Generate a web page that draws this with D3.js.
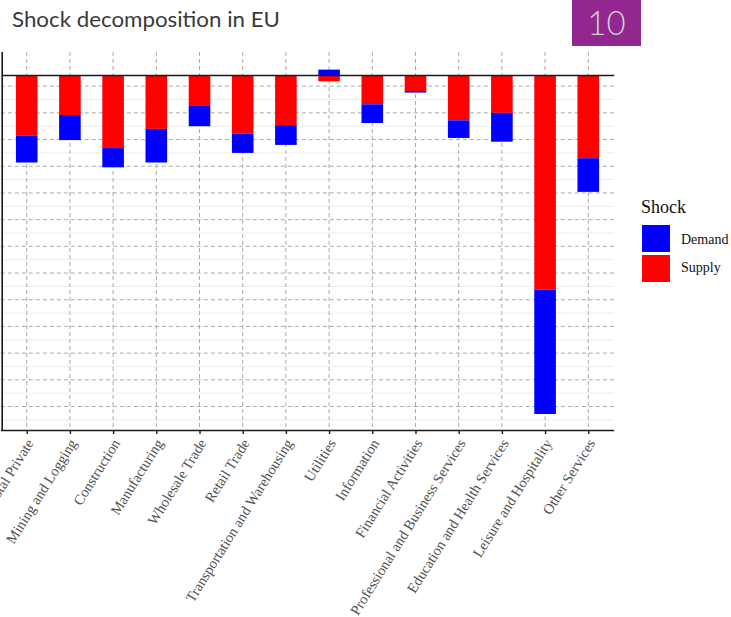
<!DOCTYPE html>
<html>
<head>
<meta charset="utf-8">
<script src="https://cdn.jsdelivr.net/npm/d3@7"></script>
<style>
  html, body { margin: 0; padding: 0; background: #fff; }
  svg { display: block; }
</style>
</head>
<body>
<script>
// Sectors, in plotting order
const sectors = [
  "Total Private", "Mining and Logging", "Construction", "Manufacturing",
  "Wholesale Trade", "Retail Trade", "Transportation and Warehousing",
  "Utilities", "Information", "Financial Activities",
  "Professional and Business Services", "Education and Health Services",
  "Leisure and Hospitality", "Other Services"
];

// Shock contributions (percent)
const supply = [-11.3, -7.4, -13.6, -10.0, -5.7, -10.9, -9.3, -1.1, -5.4, -2.9, -8.4, -7.0, -40.1, -15.5];
const demand = [-5.0, -4.7, -3.6, -6.3, -3.8, -3.6, -3.7, 1.1, -3.5, -0.3, -3.3, -5.4, -23.3, -6.3];

const shockKeys = ["Demand", "Supply"];
const shockColors = ["#0000ff", "#ff0000"];

// Gridline positions (percent)
const majorBreaks = [-2, -7, -12, -17, -22, -27, -32, -37, -42, -47, -52, -57, -62];
const minorBreaks = [-4.5, -9.5, -14.5, -19.5, -24.5, -29.5, -34.5, -39.5, -44.5, -49.5, -54.5, -59.5, -64.5];
const yDomain = [-66.4, 4.4];

const W = 731, H = 617;
const svg = d3.select("body").append("svg").attr("width", W).attr("height", H);

// Slide heading
svg.append("text")
  .attr("x", 12).attr("y", 27)
  .attr("font-family", "Lato, 'Noto Sans', sans-serif")
  .attr("font-size", 22)
  .attr("fill", "#3a3a3a")
  .attr("textLength", 268)
  .attr("lengthAdjust", "spacingAndGlyphs")
  .text("Shock decomposition in EU");

// Slide number badge
svg.append("rect")
  .attr("x", 572).attr("y", 0).attr("width", 69).attr("height", 46)
  .attr("fill", "#93278f");
svg.append("text")
  .attr("x", 606.5).attr("y", 35)
  .attr("text-anchor", "middle")
  .attr("font-family", "Lato, 'Noto Sans', sans-serif")
  .attr("font-weight", 300)
  .attr("font-size", 33)
  .attr("fill", "#cfcfcf")
  .text("10");

// Panel
const panel = { left: 0.8, right: 614.2, top: 52, bottom: 430 };

const x = d3.scalePoint().domain(sectors).range([panel.left, panel.right]).padding(0.6);
const y = d3.scaleLinear().domain(yDomain).range([panel.bottom, panel.top]);
const barW = x.step() * 0.5;

const g = svg.append("g");

// Minor horizontal grid
g.selectAll("line.minor").data(minorBreaks).join("line")
  .attr("class", "minor")
  .attr("x1", panel.left).attr("x2", panel.right)
  .attr("y1", d => y(d)).attr("y2", d => y(d))
  .attr("stroke", "#ececec").attr("stroke-width", 1);

// Major horizontal grid
g.selectAll("line.major").data(majorBreaks).join("line")
  .attr("class", "major")
  .attr("x1", panel.left).attr("x2", panel.right)
  .attr("y1", d => y(d)).attr("y2", d => y(d))
  .attr("stroke", "#aaaaaa").attr("stroke-width", 1)
  .attr("stroke-dasharray", "4,3");

// Vertical grid at each sector
g.selectAll("line.vgrid").data(sectors).join("line")
  .attr("class", "vgrid")
  .attr("x1", d => x(d)).attr("x2", d => x(d))
  .attr("y1", panel.top).attr("y2", panel.bottom)
  .attr("stroke", "#aaaaaa").attr("stroke-width", 1)
  .attr("stroke-dasharray", "4,3");

// Stacked bars: supply from zero, demand stacked beyond it (or above zero when positive)
const rows = sectors.map((s, i) => ({ sector: s, Supply: supply[i], Demand: demand[i] }));
const segs = [];
rows.forEach(r => {
  let neg = 0, pos = 0;
  ["Supply", "Demand"].forEach(k => {
    const v = r[k];
    let y0, y1;
    if (v < 0) { y0 = neg; y1 = neg + v; neg = y1; }
    else { y0 = pos; y1 = pos + v; pos = y1; }
    segs.push({ sector: r.sector, key: k, y0, y1 });
  });
});
const color = d3.scaleOrdinal().domain(shockKeys).range(shockColors);

g.selectAll("rect.bar").data(segs).join("rect")
  .attr("class", "bar")
  .attr("x", d => x(d.sector) - barW / 2)
  .attr("width", barW)
  .attr("y", d => y(Math.max(d.y0, d.y1)))
  .attr("height", d => Math.abs(y(d.y0) - y(d.y1)))
  .attr("fill", d => color(d.key));

// Zero reference line
g.append("line")
  .attr("x1", panel.left + 1).attr("x2", panel.right)
  .attr("y1", y(0)).attr("y2", y(0))
  .attr("stroke", "#1a1a1a").attr("stroke-width", 1.6);

// Left axis line
g.append("line")
  .attr("x1", 2.2).attr("x2", 2.2)
  .attr("y1", panel.top).attr("y2", panel.bottom)
  .attr("stroke", "#1a1a1a").attr("stroke-width", 1.6);

// Bottom axis
const xAxis = g.append("g")
  .attr("transform", `translate(0,${panel.bottom})`)
  .call(d3.axisBottom(x).tickSize(4).tickSizeOuter(0));
xAxis.select(".domain")
  .attr("d", `M${panel.left},0.5H${panel.right}`)
  .attr("stroke", "#1a1a1a").attr("stroke-width", 1.6);
xAxis.selectAll(".tick line").attr("stroke", "#1a1a1a").attr("stroke-width", 1.4);
xAxis.selectAll(".tick text")
  .attr("font-family", "'Liberation Serif', 'Times New Roman', serif")
  .attr("font-size", 14.5)
  .attr("fill", "#505050")
  .attr("text-anchor", "end")
  .attr("dy", null)
  .attr("y", 0)
  .attr("x", 0)
  .attr("transform", "translate(7,13) rotate(-58)");

// Legend
const lg = svg.append("g").attr("transform", "translate(641,0)");
lg.append("text")
  .attr("x", 0).attr("y", 213)
  .attr("font-family", "'Liberation Serif', 'Times New Roman', serif")
  .attr("font-size", 18)
  .attr("fill", "#111")
  .text("Shock");
shockKeys.forEach((k, i) => {
  lg.append("rect")
    .attr("x", 1).attr("y", 225 + i * 30)
    .attr("width", 28).attr("height", 27)
    .attr("fill", color(k));
  lg.append("text")
    .attr("x", 40).attr("y", 244 + i * 28)
    .attr("font-family", "'Liberation Serif', 'Times New Roman', serif")
    .attr("font-size", 14)
    .attr("fill", "#111")
    .text(k);
});
</script>
</body>
</html>
